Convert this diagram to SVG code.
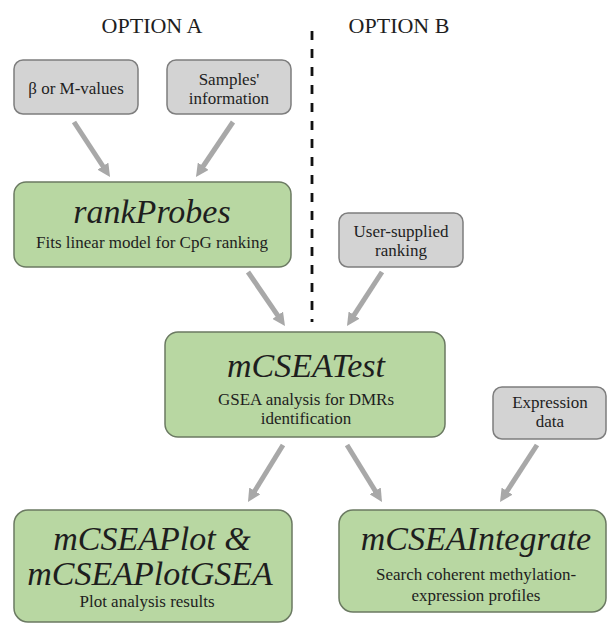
<svg xmlns="http://www.w3.org/2000/svg" width="608" height="625" viewBox="0 0 608 625">
<defs>
<marker id="ah" viewBox="0 0 13 13" markerUnits="userSpaceOnUse" markerWidth="13" markerHeight="13" refX="4" refY="6.5" orient="auto">
<path d="M0,0 L13,6.5 L0,13 z" fill="#a8a8a8"/>
</marker>
<style>
.t{font-family:"Liberation Serif","Times New Roman",serif;fill:#1e1e1e;text-anchor:middle}
.hd{font-size:22px}
.big{font-size:34px;font-style:italic}
.sm{font-size:17px}
.gray{fill:#d3d3d3;stroke:#7e7e7e;stroke-width:1.5}
.green{fill:#b8d7a2;stroke:#6b7a62;stroke-width:1.5}
.arr{stroke:#a8a8a8;stroke-width:5;fill:none;marker-end:url(#ah)}
</style>
</defs>
<rect width="608" height="625" fill="#ffffff"/>
<text class="t hd" x="152" y="33">OPTION A</text>
<text class="t hd" x="399" y="33">OPTION B</text>
<line x1="312" y1="31" x2="312" y2="322" stroke="#111" stroke-width="2.8" stroke-dasharray="9 9"/>
<g id="connectors">
<line class="arr" x1="74" y1="122" x2="105.1" y2="169.5"/>
<line class="arr" x1="233" y1="122" x2="201" y2="169.5"/>
<line class="arr" x1="248" y1="272" x2="279.9" y2="318.6"/>
<line class="arr" x1="382" y1="272" x2="351.9" y2="318.4"/>
<line class="arr" x1="283" y1="445" x2="252.7" y2="494.3"/>
<line class="arr" x1="347" y1="445" x2="377.3" y2="494.3"/>
<line class="arr" x1="537" y1="445" x2="504.9" y2="494.5"/>
</g>
<g id="beta">
<rect class="gray" x="14" y="60" width="124" height="54" rx="9"/>
<text class="t sm" x="76" y="94">β or M-values</text>
</g>
<g id="samples">
<rect class="gray" x="167" y="60" width="124" height="54" rx="9"/>
<text class="t sm" x="229" y="85">Samples'</text>
<text class="t sm" x="229" y="104">information</text>
</g>
<g id="rankProbes">
<rect class="green" x="14" y="182" width="277" height="85" rx="12"/>
<text class="t big" x="152" y="223">rankProbes</text>
<text class="t sm" x="152" y="248">Fits linear model for CpG ranking</text>
</g>
<g id="userRanking">
<rect class="gray" x="339" y="213" width="124" height="54" rx="9"/>
<text class="t sm" x="401" y="237">User-supplied</text>
<text class="t sm" x="401" y="256">ranking</text>
</g>
<g id="mCSEATest">
<rect class="green" x="165" y="332" width="280" height="105" rx="13"/>
<text class="t big" x="306" y="377">mCSEATest</text>
<text class="t sm" x="306" y="405">GSEA analysis for DMRs</text>
<text class="t sm" x="306" y="424">identification</text>
</g>
<g id="expression">
<rect class="gray" x="493" y="387" width="113" height="52" rx="9"/>
<text class="t sm" x="550" y="408">Expression</text>
<text class="t sm" x="550" y="427">data</text>
</g>
<g id="mCSEAPlot">
<rect class="green" x="14" y="510" width="278" height="112" rx="14"/>
<text class="t big" x="152" y="550">mCSEAPlot &amp;</text>
<text class="t big" x="150" y="585">mCSEAPlotGSEA</text>
<text class="t sm" x="147" y="607">Plot analysis results</text>
</g>
<g id="mCSEAIntegrate">
<rect class="green" x="339" y="510" width="267" height="102" rx="14"/>
<text class="t big" x="476" y="550">mCSEAIntegrate</text>
<text class="t sm" x="476" y="580">Search coherent methylation-</text>
<text class="t sm" x="476" y="601">expression profiles</text>
</g>
</svg>
